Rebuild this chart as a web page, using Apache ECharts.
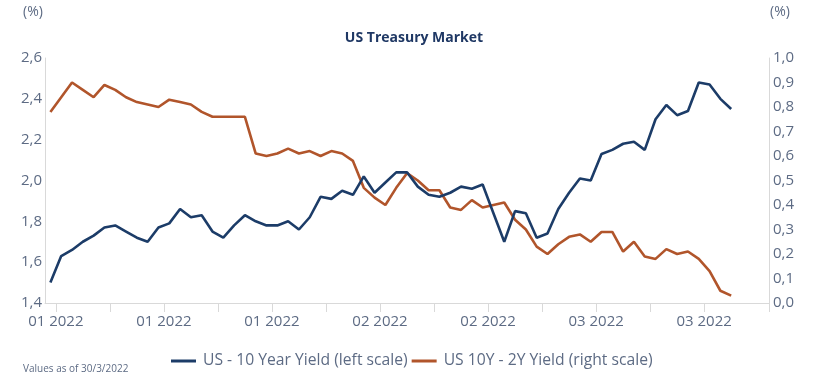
<!DOCTYPE html>
<html>
<head>
<meta charset="utf-8">
<script src="https://cdn.jsdelivr.net/npm/echarts@6/dist/echarts.min.js"></script>
<style>
html,body{margin:0;padding:0;background:#fff;}
#chart{width:833px;height:387px;}
</style>
</head>
<body>
<div id="chart"></div>
<script>
// Trading days (last three categories are empty axis space)
const dates = [
  "2021-12-31",
  "2022-01-03","2022-01-04","2022-01-05","2022-01-06","2022-01-07",
  "2022-01-10","2022-01-11","2022-01-12","2022-01-13","2022-01-14",
  "2022-01-17","2022-01-18","2022-01-19","2022-01-20","2022-01-21",
  "2022-01-24","2022-01-25","2022-01-26","2022-01-27","2022-01-28",
  "2022-01-31",
  "2022-02-01","2022-02-02","2022-02-03","2022-02-04",
  "2022-02-07","2022-02-08","2022-02-09","2022-02-10","2022-02-11",
  "2022-02-14","2022-02-15","2022-02-16","2022-02-17","2022-02-18",
  "2022-02-21","2022-02-22","2022-02-23","2022-02-24","2022-02-25",
  "2022-02-28",
  "2022-03-01","2022-03-02","2022-03-03","2022-03-04",
  "2022-03-07","2022-03-08","2022-03-09","2022-03-10","2022-03-11",
  "2022-03-14","2022-03-15","2022-03-16","2022-03-17","2022-03-18",
  "2022-03-21","2022-03-22","2022-03-23","2022-03-24","2022-03-25",
  "2022-03-28","2022-03-29","2022-03-30",
  "2022-03-31","2022-04-01","2022-04-04"
];

// US - 10 Year Yield (left scale), %
const us10y = [
  1.50, 1.63, 1.66, 1.70, 1.73, 1.77, 1.78, 1.75, 1.72, 1.70,
  1.77, 1.79, 1.86, 1.82, 1.83, 1.75, 1.72, 1.78, 1.83, 1.80,
  1.78, 1.78, 1.80, 1.76, 1.82, 1.92, 1.91, 1.95, 1.93, 2.02,
  1.94, 1.99, 2.04, 2.04, 1.97, 1.93, 1.92, 1.94, 1.97, 1.96,
  1.98, 1.84, 1.70, 1.85, 1.84, 1.72, 1.74, 1.86, 1.94, 2.01,
  2.00, 2.13, 2.15, 2.18, 2.19, 2.15, 2.30, 2.37, 2.32, 2.34,
  2.48, 2.47, 2.40, 2.35
];

// US 10Y - 2Y Yield spread (right scale), %
const spread = [
  0.78, 0.84, 0.90, 0.87, 0.84, 0.89, 0.87, 0.84, 0.82, 0.81,
  0.80, 0.83, 0.82, 0.81, 0.78, 0.76, 0.76, 0.76, 0.76, 0.61,
  0.60, 0.61, 0.63, 0.61, 0.62, 0.60, 0.62, 0.61, 0.58, 0.47,
  0.43, 0.40, 0.47, 0.53, 0.50, 0.46, 0.46, 0.39, 0.38, 0.42,
  0.39, 0.40, 0.41, 0.34, 0.30, 0.23, 0.20, 0.24, 0.27, 0.28,
  0.25, 0.29, 0.29, 0.21, 0.25, 0.19, 0.18, 0.22, 0.20, 0.21,
  0.18, 0.13, 0.05, 0.03
];

const labelIdx = [1, 11, 21, 31, 41, 51, 61];

const txt = '#5d6b84';
const axisCol = '#d9d9d9';
const blue = '#1c3c68';
const orange = '#b1552b';
const font = "'Open Sans', sans-serif";

const chart = echarts.init(document.getElementById('chart'), null, {renderer: 'canvas'});
const bandW = (833 - 45 - 64) / dates.length;

chart.setOption({
  animation: false,
  backgroundColor: '#ffffff',
  title: {
    text: 'US Treasury Market',
    left: 409, top: 26, textAlign: 'center',
    textStyle: {fontFamily: font, fontSize: 14, fontWeight: 'bold', color: '#1f3864'}
  },
  legend: {
    data: ['US - 10 Year Yield (left scale)', 'US 10Y - 2Y Yield (right scale)'],
    left: 166, top: 348,
    icon: 'rect', itemWidth: 25, itemHeight: 3, itemGap: 4,
    textStyle: {fontFamily: font, fontSize: 15.7, color: txt, padding: [0, 0, 0, 2]}
  },
  grid: {left: 45, right: 64, top: 58, bottom: 84, containLabel: false},
  xAxis: {
    type: 'category',
    data: dates,
    boundaryGap: true,
    axisLine: {show: true, lineStyle: {color: axisCol, width: 1}},
    axisTick: {show: true, length: 9, lineStyle: {color: axisCol}, interval: (i) => i % 5 === 1 && i < 64},
    axisLabel: {
      interval: (i) => labelIdx.indexOf(i) >= 0,
      formatter: (v) => v.slice(5, 7) + ' ' + v.slice(0, 4),
      fontFamily: font, fontSize: 15, color: txt, margin: 11,
      padding: [0, bandW, 0, 0]
    },
    splitLine: {show: false}
  },
  yAxis: [
    {
      type: 'value', min: 1.4, max: 2.6, interval: 0.2,
      axisLine: {show: true, lineStyle: {color: axisCol}},
      axisTick: {show: false},
      splitLine: {show: false},
      axisLabel: {formatter: (v) => v.toFixed(1).replace('.', ','), fontFamily: font, fontSize: 15, color: txt, margin: 3}
    },
    {
      type: 'value', min: 0, max: 1, interval: 0.1, position: 'right',
      axisLine: {show: true, lineStyle: {color: axisCol}},
      axisTick: {show: false},
      splitLine: {show: false},
      axisLabel: {formatter: (v) => v.toFixed(1).replace('.', ','), fontFamily: font, fontSize: 15, color: txt, margin: 4}
    }
  ],
  graphic: [
    {type: 'text', left: 23, top: 5, style: {text: '(%)', fontFamily: font, fontSize: 14, fill: txt}},
    {type: 'text', left: 770, top: 5, style: {text: '(%)', fontFamily: font, fontSize: 14, fill: txt}},
    {type: 'text', left: 23, top: 364, style: {text: 'Values as of 30/3/2022', fontFamily: font, fontSize: 10, fill: txt}}
  ],
  series: [
    {
      name: 'US 10Y - 2Y Yield (right scale)', type: 'line', yAxisIndex: 1,
      data: spread, showSymbol: false, symbol: 'none',
      lineStyle: {color: orange, width: 2.6}, itemStyle: {color: orange}, z: 2
    },
    {
      name: 'US - 10 Year Yield (left scale)', type: 'line', yAxisIndex: 0,
      data: us10y, showSymbol: false, symbol: 'none',
      lineStyle: {color: blue, width: 2.6}, itemStyle: {color: blue}, z: 3
    }
  ]
});
</script>
</body>
</html>
